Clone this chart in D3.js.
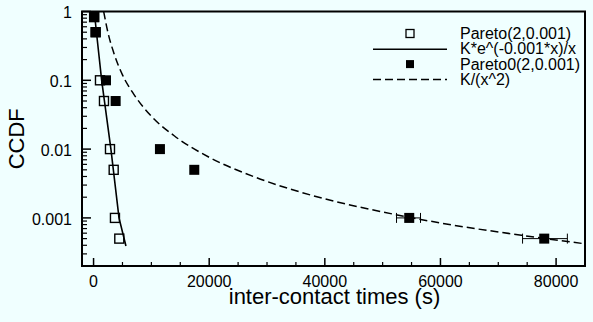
<!DOCTYPE html>
<html>
<head>
	<meta charset="UTF-8">
	<title>CCDF</title>
	<script src="https://d3js.org/d3.v7.min.js"></script>
	<style>
		body { margin: 0; background: #f0ffff; }
		text { font-family: "Liberation Sans", Arial, Helvetica, sans-serif; fill: #000; }
	</style>
</head>
<body>
	<div id="chart"></div>
	<script>
		// Pareto(2,0.001) samples (open squares)
		let openX = [100, 360, 1110, 1800, 2840, 3480, 3700, 4450];
		let openY = [0.83, 0.5, 0.1, 0.05, 0.01, 0.005, 0.001, 0.0005];

		// Pareto0(2,0.001) samples (filled squares)
		let filledX = [110, 363, 2150, 3820, 11480, 17420, 54600, 77950];
		let filledY = [0.83, 0.5, 0.1, 0.05, 0.01, 0.005, 0.001, 0.0005];

		// horizontal error bars on the last two filled points
		let errX = [54600, 77950];
		let errY = [0.001, 0.0005];
		let errLo = [52400, 74200];
		let errHi = [56550, 81950];

		// K*e^(-0.001*x)/x fit, points
		let expFitX = [120, 500, 1400, 3000, 4400, 5600];
		let expFitY = [1.0, 0.5, 0.1, 0.01, 0.001, 0.00039];

		// K/(x^2) fit, points
		let powFitX = [1750, 2500, 3500, 5000, 7000, 10000, 14000, 20000, 28000, 38000, 50000, 62000, 74000, 85000];
		let powFitY = [1.0, 0.49, 0.25, 0.12, 0.062, 0.030, 0.0155, 0.0076, 0.0039, 0.0021, 0.00122, 0.00079, 0.00056, 0.00042];

		let xTickLabels = [0, 20000, 40000, 60000, 80000];
		let yTickLabels = [1, 0.1, 0.01, 0.001];
		let legendLabels = ["Pareto(2,0.001)", "K*e^(-0.001*x)/x", "Pareto0(2,0.001)", "K/(x^2)"];

		let width = 593;
		let height = 322;
		let mLeft = 82, mRight = 585, mTop = 11.5, mBottom = 266;

		let svg = d3.select("#chart").append("svg")
			.attr("width", width)
			.attr("height", height)
			.style("display", "block");

		svg.append("rect")
			.attr("width", width)
			.attr("height", height)
			.attr("fill", "#f0ffff");

		let x = d3.scaleLinear().domain([-2000, 85000]).range([mLeft, mRight]);
		let y = d3.scaleLog().domain([0.0002, 1]).range([mBottom, mTop]);

		svg.append("clipPath").attr("id", "plotclip")
			.append("rect")
			.attr("x", mLeft).attr("y", mTop)
			.attr("width", mRight - mLeft).attr("height", mBottom - mTop);

		// y ticks (inward)
		let yMinor = y.ticks().filter(d => !yTickLabels.some(t => Math.abs(t - d) < d * 1e-6));
		svg.selectAll(".yminor")
			.data(yMinor)
			.join("line")
			.attr("class", "yminor")
			.attr("x1", mLeft).attr("x2", mLeft + 5)
			.attr("y1", d => y(d)).attr("y2", d => y(d))
			.attr("stroke", "black").attr("stroke-width", 1.2);

		svg.selectAll(".ymajor")
			.data(yTickLabels)
			.join("line")
			.attr("class", "ymajor")
			.attr("x1", mLeft).attr("x2", mLeft + 9)
			.attr("y1", d => y(d)).attr("y2", d => y(d))
			.attr("stroke", "black").attr("stroke-width", 1.5);

		svg.selectAll(".ylabel")
			.data(yTickLabels)
			.join("text")
			.attr("class", "ylabel")
			.attr("x", mLeft - 10)
			.attr("y", d => y(d) + 1)
			.attr("dy", "0.35em")
			.attr("text-anchor", "end")
			.attr("font-size", 16)
			.text(d => d.toString());

		// x ticks (inward)
		let xMinor = d3.range(0, 85001, 5000).filter(d => !xTickLabels.includes(d));
		svg.selectAll(".xminor")
			.data(xMinor)
			.join("line")
			.attr("class", "xminor")
			.attr("x1", d => x(d)).attr("x2", d => x(d))
			.attr("y1", mBottom).attr("y2", mBottom - 4)
			.attr("stroke", "black").attr("stroke-width", 1.2);

		svg.selectAll(".xmajor")
			.data(xTickLabels)
			.join("line")
			.attr("class", "xmajor")
			.attr("x1", d => x(d)).attr("x2", d => x(d))
			.attr("y1", mBottom).attr("y2", mBottom - 8)
			.attr("stroke", "black").attr("stroke-width", 1.5);

		svg.selectAll(".xlabel")
			.data(xTickLabels)
			.join("text")
			.attr("class", "xlabel")
			.attr("x", d => x(d))
			.attr("y", mBottom + 21)
			.attr("text-anchor", "middle")
			.attr("font-size", 16)
			.text(d => d.toString());

		// axis titles
		svg.append("text")
			.attr("x", (mLeft + mRight) / 2 + 1)
			.attr("y", 304)
			.attr("text-anchor", "middle")
			.attr("font-size", 22)
			.text("inter-contact times (s)");

		svg.append("text")
			.attr("transform", "translate(24," + ((mTop + mBottom) / 2) + ") rotate(-90)")
			.attr("text-anchor", "middle")
			.attr("font-size", 22)
			.text("CCDF");

		let plot = svg.append("g").attr("clip-path", "url(#plotclip)");

		let line = d3.line()
			.x(d => x(d[0]))
			.y(d => y(d[1]));

		plot.append("path")
			.attr("d", line(expFitX.map((v, i) => [v, expFitY[i]])))
			.attr("fill", "none")
			.attr("stroke", "black")
			.attr("stroke-width", 1.6);

		plot.append("path")
			.attr("d", line.curve(d3.curveMonotoneX)(powFitX.map((v, i) => [v, powFitY[i]])))
			.attr("fill", "none")
			.attr("stroke", "black")
			.attr("stroke-width", 1.5)
			.attr("stroke-dasharray", "8,4");

		// error bars
		let errData = errX.map((v, i) => ({ y: errY[i], lo: errLo[i], hi: errHi[i] }));
		plot.selectAll(".errbar")
			.data(errData)
			.join("line")
			.attr("class", "errbar")
			.attr("x1", d => x(d.lo)).attr("x2", d => x(d.hi))
			.attr("y1", d => y(d.y)).attr("y2", d => y(d.y))
			.attr("stroke", "black").attr("stroke-width", 1);
		plot.selectAll(".errcap")
			.data(errData.flatMap(d => [{ x: d.lo, y: d.y }, { x: d.hi, y: d.y }]))
			.join("line")
			.attr("class", "errcap")
			.attr("x1", d => x(d.x)).attr("x2", d => x(d.x))
			.attr("y1", d => y(d.y) - 5).attr("y2", d => y(d.y) + 5)
			.attr("stroke", "black").attr("stroke-width", 1);

		let s = 10;
		plot.selectAll(".open")
			.data(openX.map((v, i) => [v, openY[i]]))
			.join("rect")
			.attr("class", "open")
			.attr("x", d => x(d[0]) - s / 2 + 0.5)
			.attr("y", d => y(d[1]) - s / 2 + 0.5)
			.attr("width", s - 1).attr("height", s - 1)
			.attr("fill", "none")
			.attr("stroke", "black").attr("stroke-width", 1.4);

		plot.selectAll(".filled")
			.data(filledX.map((v, i) => [v, filledY[i]]))
			.join("rect")
			.attr("class", "filled")
			.attr("x", d => x(d[0]) - s / 2)
			.attr("y", d => y(d[1]) - s / 2)
			.attr("width", s).attr("height", s)
			.attr("fill", "black");

		// frame
		svg.append("rect")
			.attr("x", mLeft).attr("y", mTop)
			.attr("width", mRight - mLeft).attr("height", mBottom - mTop)
			.attr("fill", "none")
			.attr("stroke", "black")
			.attr("stroke-width", 2);

		// legend
		let rowY = [33.5, 48.8, 64.1, 79.4];
		let legend = svg.append("g");
		legend.append("rect")
			.attr("x", 406).attr("y", rowY[0] - 4)
			.attr("width", 8).attr("height", 8)
			.attr("fill", "none").attr("stroke", "black").attr("stroke-width", 1.3);
		legend.append("line")
			.attr("x1", 373).attr("x2", 447)
			.attr("y1", rowY[1] + 0.5).attr("y2", rowY[1] + 0.5)
			.attr("stroke", "black").attr("stroke-width", 1.6);
		legend.append("rect")
			.attr("x", 406).attr("y", rowY[2] - 4)
			.attr("width", 8).attr("height", 8)
			.attr("fill", "black");
		legend.append("line")
			.attr("x1", 373).attr("x2", 447)
			.attr("y1", rowY[3]).attr("y2", rowY[3])
			.attr("stroke", "black").attr("stroke-width", 1.5)
			.attr("stroke-dasharray", "8,4");
		legend.selectAll(".legtext")
			.data(legendLabels)
			.join("text")
			.attr("class", "legtext")
			.attr("x", 460)
			.attr("y", (d, i) => rowY[i] + 5.5)
			.attr("font-size", 16)
			.text(d => d);
	</script>
</body>
</html>
